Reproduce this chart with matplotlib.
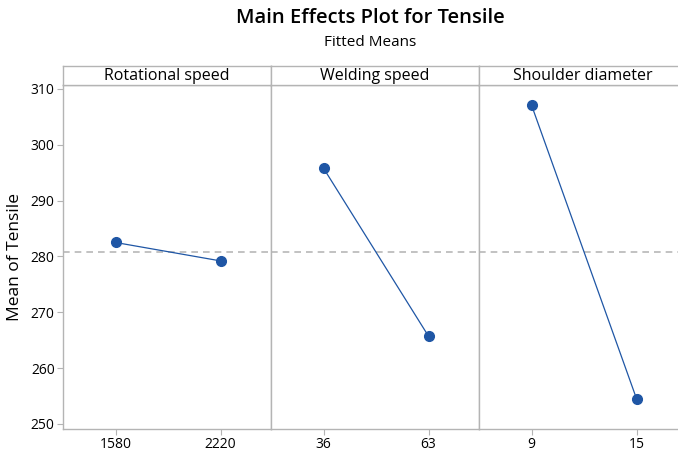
import numpy as np
import matplotlib.pyplot as plt

# factor names, levels and fitted means
factors = ['Rotational speed', 'Welding speed', 'Shoulder diameter']
levels = [['1580', '2220'], ['36', '63'], ['9', '15']]
means = [[282.5, 279.2], [295.8, 265.7], [307.1, 254.5]]
grand_mean = 280.85
yticks = [250, 260, 270, 280, 290, 300, 310]

W, H = 678, 454
fig = plt.figure(figsize=(W / 100, H / 100), dpi=100)
plt.rcParams['font.family'] = ['Open Sans', 'DejaVu Sans']

blue = '#1f56a5'
frame = '#b4b4b4'

left, top, bottom, pw, strip_h = 63, 85, 429, 208, 19

fig.text(370 / W, 1 - 18 / H, 'Main Effects Plot for Tensile', ha='center', va='center',
         fontsize=14.5, fontweight='semibold')
fig.text(370 / W, 1 - 42 / H, 'Fitted Means', ha='center', va='center', fontsize=11)
fig.text(15 / W, 1 - 257 / H, 'Mean of Tensile', ha='center', va='center',
         rotation=90, fontsize=12.5)

for i, name in enumerate(factors):
    x0 = left + i * pw
    ax = fig.add_axes([x0 / W, 1 - bottom / H, pw / W, (bottom - top) / H])
    x = np.arange(len(levels[i]))
    ax.axhline(grand_mean, color='#b8b8b8', ls=(0, (4, 3)), lw=1.2, zorder=1)
    ax.plot(x, means[i], color=blue, lw=0.9, marker='o', ms=7, zorder=3)
    ax.set_xlim(-0.5, 1.48)
    ax.set_ylim(249.1, 310.7)
    ax.set_xticks(x)
    ax.set_xticklabels(levels[i], fontsize=10)
    ax.tick_params(axis='x', length=4, color=frame, pad=2)
    if i == 0:
        ax.set_yticks(yticks)
        ax.set_yticklabels([str(t) for t in yticks], fontsize=10)
        ax.tick_params(axis='y', length=4, color=frame, pad=2)
    else:
        ax.set_yticks([])
    for s in ax.spines.values():
        s.set_color(frame)
        s.set_linewidth(1.0)

    sax = fig.add_axes([x0 / W, 1 - top / H, pw / W, strip_h / H])
    sax.set_xticks([])
    sax.set_yticks([])
    for s in sax.spines.values():
        s.set_color(frame)
        s.set_linewidth(1.0)
    sax.text(0.5, 0.45, name, ha='center', va='center', fontsize=11.5, transform=sax.transAxes)

fig.savefig('out.png', dpi=100)
